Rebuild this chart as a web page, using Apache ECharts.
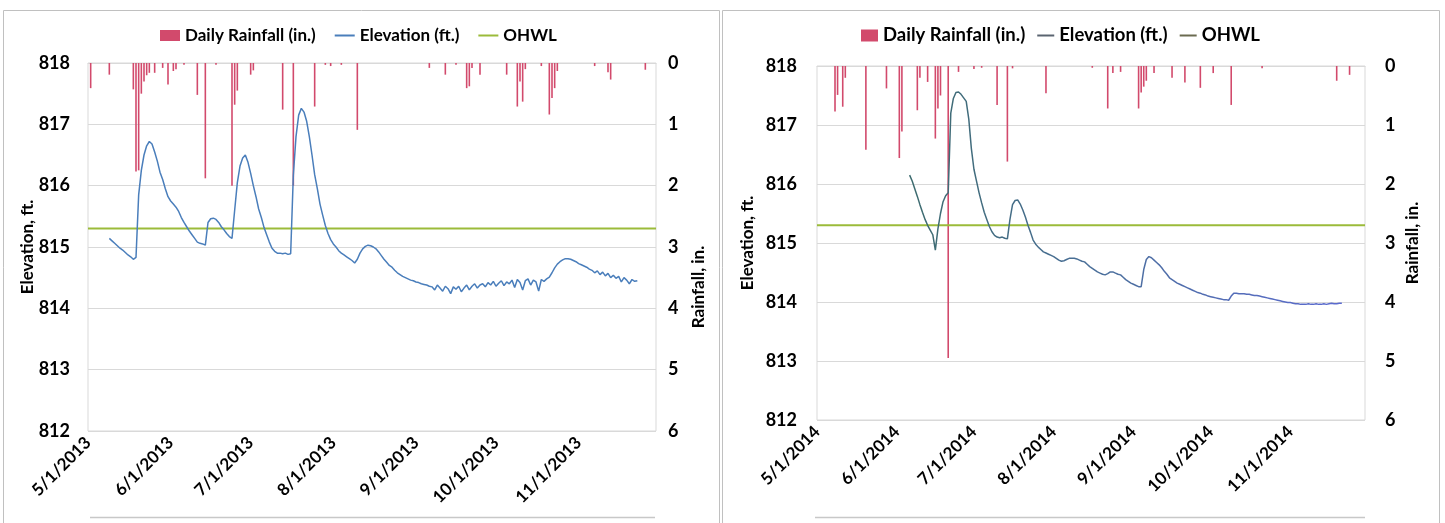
<!DOCTYPE html>
<html><head><meta charset="utf-8">
<script src="https://cdn.jsdelivr.net/npm/echarts@6/dist/echarts.min.js"></script>
<style>html,body{margin:0;padding:0;background:#fff}#c{width:1445px;height:523px}</style>
</head><body><div id="c"></div>
<script>
// ---------------- data ----------------
const OHWL = 815.3;
const monthLabels2013 = ['5/1/2013','6/1/2013','7/1/2013','8/1/2013','9/1/2013','10/1/2013','11/1/2013'];
const monthLabels2014 = ['5/1/2014','6/1/2014','7/1/2014','8/1/2014','9/1/2014','10/1/2014','11/1/2014'];
const elevTicks = [812, 813, 814, 815, 816, 817, 818];
const rainTicks = [0, 1, 2, 3, 4, 5, 6];

// Daily rainfall (in.) 2013
const rain2013 = [
  ['5/2',0.41],['5/9',0.19],['5/18',0.43],['5/19',1.77],['5/20',1.75],['5/21',0.5],['5/22',0.3],
  ['5/23',0.2],['5/24',0.16],['5/26',0.16],['5/29',0.08],['5/31',0.35],['6/2',0.13],['6/3',0.1],
  ['6/6',0.03],['6/11',0.52],['6/14',1.88],['6/18',0.03],['6/24',2.0],['6/25',0.68],['6/26',0.45],
  ['7/1',0.19],['7/2',0.12],['7/13',0.76],['7/17',2.0],['7/25',0.71],['7/29',0.03],['7/31',0.05],
  ['8/4',0.03],['8/10',1.09],['9/6',0.08],['9/12',0.19],['9/16',0.03],['9/20',0.41],['9/21',0.38],
  ['9/22',0.08],['9/25',0.19],['10/5',0.19],['10/9',0.71],['10/10',0.3],['10/11',0.63],['10/12',0.1],
  ['10/18',0.05],['10/21',0.84],['10/22',0.57],['10/23',0.41],['10/24',0.13],['11/7',0.05],
  ['11/12',0.15],['11/13',0.27],['11/26',0.11]
];
// Daily elevation (ft.) 2013, starting 5/9/2013
const elev2013Start = '5/9/2013';
const elev2013 = [
  815.14,815.10,815.06,815.02,814.98,814.95,814.91,814.87,814.84,814.80,
  814.83,815.85,816.25,816.50,816.65,816.72,816.68,816.55,816.40,816.22,
  816.10,815.95,815.82,815.75,815.70,815.65,815.58,815.48,815.40,815.33,
  815.26,815.20,815.14,815.08,815.06,815.05,815.03,815.40,815.46,815.47,
  815.45,815.40,815.33,815.28,815.22,815.17,815.14,815.60,816.05,816.32,
  816.45,816.50,816.38,816.20,816.00,815.82,815.62,815.48,815.32,815.20,
  815.08,814.98,814.93,814.90,814.90,814.89,814.90,814.88,814.89,816.17,
  816.80,817.15,817.26,817.20,817.05,816.80,816.50,816.18,815.95,815.70,
  815.52,815.35,815.22,815.12,815.05,815.00,814.94,814.90,814.87,814.84,
  814.81,814.78,814.74,814.80,814.90,814.97,815.01,815.03,815.02,815.00,
  814.97,814.92,814.86,814.80,814.75,814.70,814.67,814.62,814.58,814.55,
  814.52,814.50,814.48,814.46,814.45,814.43,814.42,814.40,814.39,814.38,
  814.36,814.35,814.30,814.38,814.33,814.28,814.36,814.32,814.24,814.35,
  814.31,814.36,814.27,814.33,814.38,814.30,814.36,814.40,814.33,814.38,
  814.40,814.35,814.42,814.38,814.44,814.36,814.41,814.45,814.37,814.43,
  814.40,814.46,814.34,814.47,814.42,814.30,814.45,814.48,814.38,814.46,
  814.43,814.28,814.47,814.44,814.48,814.51,814.58,814.66,814.72,814.76,
  814.79,814.81,814.81,814.80,814.78,814.76,814.73,814.71,814.69,814.67,
  814.64,814.62,814.58,814.61,814.55,814.59,814.53,814.57,814.50,814.54,
  814.49,814.52,814.43,814.50,814.46,814.40,814.47,814.44,814.45
];

// Daily rainfall (in.) 2014
const rain2014 = [
  ['5/8',0.77],['5/9',0.49],['5/11',0.69],['5/12',0.2],['5/20',1.42],['5/28',0.38],['6/2',1.56],
  ['6/3',1.11],['6/9',0.75],['6/10',0.2],['6/13',0.27],['6/16',1.23],['6/17',0.72],['6/18',0.5],
  ['6/21',4.95],['6/25',0.1],['7/1',0.05],['7/4',0.03],['7/10',0.66],['7/14',1.62],['7/16',0.04],
  ['7/29',0.46],['8/16',0.03],['8/22',0.72],['8/24',0.12],['8/27',0.1],['9/3',0.72],['9/4',0.45],
  ['9/5',0.35],['9/6',0.25],['9/9',0.12],['9/16',0.2],['9/21',0.28],['9/27',0.37],['10/2',0.12],
  ['10/9',0.66],['10/21',0.04],['11/19',0.25],['11/24',0.15]
];
// Daily elevation (ft.) 2014, starting 6/6/2014
const elev2014Start = '6/6/2014';
const elev2014 = [
  816.15,816.05,815.92,815.79,815.65,815.52,815.40,815.30,815.22,815.14,
  814.88,815.24,815.50,815.70,815.80,815.85,817.20,817.45,817.55,817.56,
  817.52,817.46,817.40,817.10,816.60,816.25,816.05,815.85,815.68,815.52,
  815.40,815.28,815.19,815.13,815.10,815.09,815.10,815.08,815.07,815.40,
  815.65,815.72,815.73,815.66,815.56,815.44,815.30,815.18,815.05,814.98,
  814.93,814.89,814.85,814.83,814.81,814.79,814.77,814.74,814.71,814.69,
  814.70,814.72,814.74,814.74,814.74,814.73,814.71,814.69,814.68,814.64,
  814.60,814.57,814.54,814.51,814.49,814.47,814.46,814.48,814.51,814.51,
  814.49,814.47,814.46,814.42,814.38,814.35,814.32,814.30,814.28,814.26,
  814.26,814.55,814.72,814.77,814.75,814.71,814.67,814.63,814.58,814.52,
  814.47,814.41,814.38,814.35,814.32,814.30,814.28,814.26,814.24,814.22,
  814.20,814.18,814.16,814.15,814.13,814.12,814.10,814.09,814.08,814.07,
  814.06,814.05,814.04,814.04,814.03,814.10,814.15,814.15,814.14,814.14,
  814.14,814.13,814.13,814.12,814.11,814.11,814.10,814.09,814.08,814.07,
  814.06,814.05,814.04,814.03,814.02,814.01,814.00,813.99,813.99,813.98,
  813.97,813.97,813.96,813.96,813.96,813.97,813.96,813.96,813.97,813.96,
  813.96,813.97,813.96,813.97,813.98,813.97,813.97,813.98,813.98
];

// ---------------- build ----------------
function dayCats(year){
  const out = []; const d = new Date(year, 4, 1);
  while (d.getMonth() <= 10 && d.getFullYear() === year) {
    out.push((d.getMonth()+1) + '/' + d.getDate() + '/' + year);
    d.setDate(d.getDate()+1);
  }
  return out;
}
const cats13 = dayCats(2013), cats14 = dayCats(2014);
function rainPairs(list, year){ return list.map(([md, v]) => [md + '/' + year, v]); }
function elevPairs(vals, start, cats){
  const i0 = cats.indexOf(start);
  return vals.map((v, k) => [cats[i0 + k], v]);
}

const FONT = 'Lato';
const BOLD = {fontFamily: FONT, fontWeight: 'bold', color: '#000'};
const GRID_LINE = '#d9d9d9';
const RAIN_COLOR = '#d24a6c';
const names = {rain13:'Daily Rainfall (in.)', elev13:'Elevation (ft.)', ohwl13:'OHWL',
               rain14:'Daily Rainfall (in.)', elev14:'Elevation (ft.)', ohwl14:'OHWL'};

function xAxis(gi, cats, labels){
  return {gridIndex: gi, type:'category', data: cats, boundaryGap:false,
    axisLine:{lineStyle:{color:GRID_LINE}}, axisTick:{show:false}, splitLine:{show:false},
    axisLabel:{interval:(i, v) => labels.includes(v), rotate:45, margin:9, fontSize:17, ...BOLD}};
}
function yElev(gi, margin, gap){
  return {gridIndex: gi, type:'value', position:'left', min:elevTicks[0], max:elevTicks[elevTicks.length-1], interval:1,
    axisLine:{show:false}, axisTick:{show:false}, splitLine:{lineStyle:{color:GRID_LINE}},
    axisLabel:{margin: margin, fontSize:18, ...BOLD},
    name:'Elevation, ft.', nameLocation:'middle', nameGap:gap, nameRotate:90, nameMoveOverlap:false,
    nameTextStyle:{fontSize:17, ...BOLD}};
}
function yRain(gi, margin, gap, pad){
  return {gridIndex: gi, type:'value', position:'right', min:rainTicks[0], max:rainTicks[rainTicks.length-1], interval:1, inverse:true,
    axisLine:{show:false}, axisTick:{show:false}, splitLine:{show:false},
    axisLabel:{margin: margin, fontSize:18, ...BOLD},
    name:'Rainfall, in.', nameLocation:'middle', nameGap:gap, nameRotate:90, nameMoveOverlap:false,
    nameTextStyle:{fontSize:17, padding:pad, ...BOLD}};
}
const HIDE_DOT = {opacity: 0};

const chart = echarts.init(document.getElementById('c'), null, {renderer:'canvas'});
chart.setOption({
  animation:false,
  backgroundColor:'#fff',
  graphic:[
    {type:'rect', shape:{x:3.5, y:10.5, width:716, height:530}, style:{fill:null, stroke:'#c0c0c0', lineWidth:1}, silent:true},
    {type:'rect', shape:{x:722.5, y:10.5, width:717, height:530}, style:{fill:null, stroke:'#c0c0c0', lineWidth:1}, silent:true},
    {type:'line', shape:{x1:90, y1:517.5, x2:655, y2:517.5}, style:{stroke:'#c8c8c8', lineWidth:1.5}, silent:true},
    {type:'line', shape:{x1:815, y1:517.5, x2:1365, y2:517.5}, style:{stroke:'#c8c8c8', lineWidth:1.5}, silent:true}
  ],
  legend:[
    {left:155, top:22, itemGap:18, itemWidth:20, itemHeight:11, textStyle:{fontSize:17, ...BOLD},
     formatter:n => names[n],
     data:[{name:'rain13', icon:'rect'}, {name:'elev13', itemStyle:HIDE_DOT}, {name:'ohwl13', itemStyle:HIDE_DOT}]},
    {left:856, top:21, itemGap:11, itemWidth:17, itemHeight:12, textStyle:{fontSize:18.5, ...BOLD},
     formatter:n => names[n],
     data:[{name:'rain14', icon:'rect'}, {name:'elev14', itemStyle:HIDE_DOT, lineStyle:{color:'#5a6470'}}, {name:'ohwl14', itemStyle:HIDE_DOT, lineStyle:{color:'#6b6b50'}}]}
  ],
  grid:[
    {left:88, top:63, width:568, height:368, show:true, borderColor:GRID_LINE, borderWidth:1},
    {left:817, top:66, width:548, height:354, show:true, borderColor:GRID_LINE, borderWidth:1}
  ],
  xAxis:[ xAxis(0, cats13, monthLabels2013), xAxis(1, cats14, monthLabels2014) ],
  yAxis:[ yElev(0, 18, 52), yRain(0, 12, 34, [0, 80, 0, 0]), yElev(1, 20, 61), yRain(1, 20, 39, 0) ],
  series:[
    {name:'rain13', type:'bar', xAxisIndex:0, yAxisIndex:1, barWidth:1.6, itemStyle:{color:RAIN_COLOR}, data: rainPairs(rain2013, 2013)},
    {name:'elev13', type:'line', xAxisIndex:0, yAxisIndex:0, symbol:'none', lineStyle:{width:1.5, color:'#4a7ebb'}, itemStyle:{color:'#4a7ebb'}, data: elevPairs(elev2013, elev2013Start, cats13), z:3},
    {name:'ohwl13', type:'line', xAxisIndex:0, yAxisIndex:0, symbol:'none', lineStyle:{width:2, color:'#9bbb3a'}, itemStyle:{color:'#9bbb3a'}, data:[[cats13[0], OHWL],[cats13[cats13.length-1], OHWL]], z:2},
    {name:'rain14', type:'bar', xAxisIndex:1, yAxisIndex:3, barWidth:1.6, itemStyle:{color:RAIN_COLOR}, data: rainPairs(rain2014, 2014)},
    {name:'elev14', type:'line', xAxisIndex:1, yAxisIndex:2, symbol:'none',
     lineStyle:{width:1.5, color:new echarts.graphic.LinearGradient(0,0,1,0,[{offset:0,color:'#3d6b6e'},{offset:0.45,color:'#4b6f9c'},{offset:1,color:'#5c6bd0'}])},
     itemStyle:{color:'#4b6f9c'}, data: elevPairs(elev2014, elev2014Start, cats14), z:3},
    {name:'ohwl14', type:'line', xAxisIndex:1, yAxisIndex:2, symbol:'none', lineStyle:{width:2, color:'#9bbb3a'}, itemStyle:{color:'#9bbb3a'}, data:[[cats14[0], OHWL],[cats14[cats14.length-1], OHWL]], z:2}
  ]
});
</script>
</body></html>
